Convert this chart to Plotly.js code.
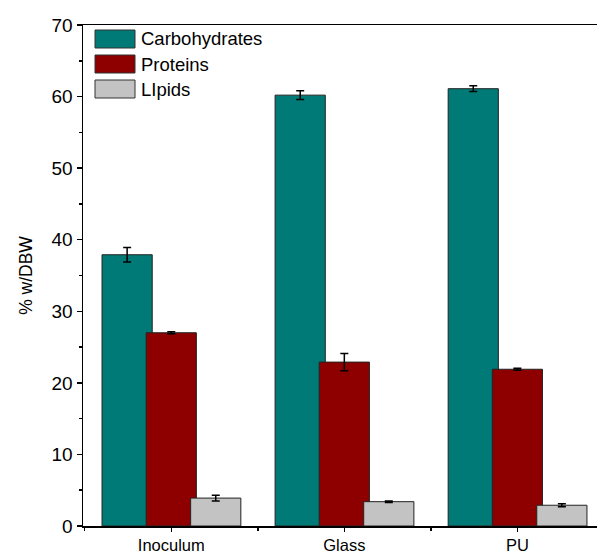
<!DOCTYPE html>
<html><head><meta charset="utf-8">
<script src="https://cdn.plot.ly/plotly-3.0.1.min.js"></script>
<style>html,body{margin:0;padding:0;background:#fff}</style>
</head><body>
<div id="chart" style="width:597px;height:556px"></div>
<script>
const categories = ["Inoculum", "Glass", "PU"];
const seriesNames = ["Carbohydrates", "Proteins", "LIpids"];
const carbohydrates = [37.9, 60.2, 61.1];
const carbohydratesErr = [1.0, 0.6, 0.4];
const proteins = [27.0, 22.9, 21.9];
const proteinsErr = [0.15, 1.2, 0.15];
const lipids = [3.9, 3.4, 2.9];
const lipidsErr = [0.4, 0.1, 0.2];

const colors = ["#007A76", "#8E0000", "#C3C3C3"];
const offsets = [-0.40, -0.145, 0.112];
const values = [carbohydrates, proteins, lipids];
const errs = [carbohydratesErr, proteinsErr, lipidsErr];
const xIdx = categories.map((c, i) => i);

const traces = values.map((v, k) => ({
  type: "bar",
  name: seriesNames[k],
  x: xIdx,
  y: v,
  width: 0.29,
  offset: offsets[k],
  marker: {color: colors[k], line: {color: "#222", width: 1}},
  error_y: {type: "data", array: errs[k], visible: true, color: "#000", thickness: 1.5, width: 4},
  showlegend: false
}));

const shapes = [];
const annotations = [];
seriesNames.forEach((n, k) => {
  const yTop = 30 + k * 25;
  shapes.push({type: "rect", xref: "paper", yref: "paper",
    x0: (95 - 83) / 514, x1: (135 - 83) / 514,
    y0: 1 - (yTop - 25) / 501, y1: 1 - (yTop + 18 - 25) / 501,
    fillcolor: colors[k], line: {color: "#333", width: 1}});
  annotations.push({xref: "paper", yref: "paper", x: (139 - 83) / 514,
    y: 1 - (yTop + 9 - 25) / 501, xanchor: "left", yanchor: "middle",
    text: n, showarrow: false, font: {size: 18.5, color: "#000"}});
});

const layout = {
  width: 597, height: 556,
  margin: {l: 83, r: 0, t: 25, b: 30},
  paper_bgcolor: "#fff", plot_bgcolor: "#fff",
  font: {family: "Liberation Sans, Arial, sans-serif", color: "#000"},
  barmode: "overlay",
  xaxis: {
    range: [-0.51, 2.46], tickvals: xIdx, ticktext: categories,
    showgrid: false, zeroline: false, showline: true, linecolor: "#000", linewidth: 1.5,
    mirror: true, ticks: "outside", ticklen: 4, tickwidth: 1.5, tickcolor: "#000",
    tickfont: {size: 16.5},
    minor: {tick0: 0.5, dtick: 1, ticks: "outside", ticklen: 3, tickwidth: 1.5, tickcolor: "#000", showgrid: false}
  },
  yaxis: {
    range: [0, 70], dtick: 10, showgrid: false, zeroline: false,
    showline: true, linecolor: "#000", linewidth: 1.5,
    ticks: "outside", ticklen: 5, tickwidth: 1.5, tickcolor: "#000",
    tickfont: {size: 19},
    minor: {dtick: 5, ticks: "outside", ticklen: 3, tickwidth: 1.5, tickcolor: "#000", showgrid: false},
    title: {text: "% w/DBW", font: {size: 17.5}, standoff: 14}
  },
  shapes: shapes,
  annotations: annotations
};

Plotly.newPlot("chart", traces, layout, {staticPlot: true, displayModeBar: false});
</script>
</body></html>
